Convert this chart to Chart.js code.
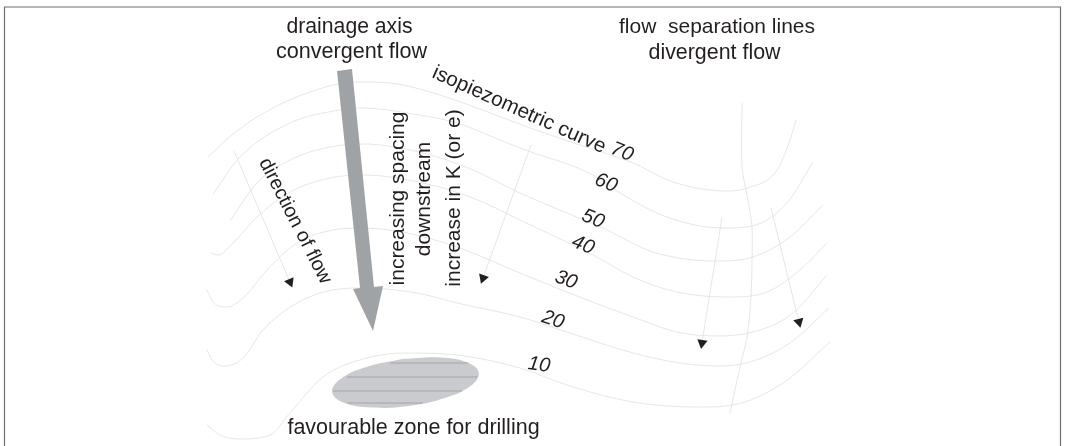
<!DOCTYPE html>
<html><head><meta charset="utf-8">
<style>html,body{margin:0;padding:0;background:#fff}canvas{display:block}</style>
<script src="https://cdn.jsdelivr.net/npm/chart.js@4"></script></head>
<body><canvas id="c" width="1065" height="446" style="width:1065px;height:446px"></canvas>
<script>
// Values are diagram coordinates
const curve70 = [[208,157],[232,135],[257,117],[307,93],[357,82],[390,83],[430,92],[480,109],[530,128],[580,145],[633,163],[673,182],[727,191],[747,188],[777,170],[790,140],[796,120]];
const curve60 = [[213,194],[240,157],[290,123],[340,110],[363,108],[407,113],[457,123],[500,140],[520,148],[593,175],[620,193],[667,217],[723,228],[752,226],[787,203],[813,162]];
const curve50 = [[230,221],[257,183],[290,160],[330,147],[363,144],[423,153],[473,170],[520,193],[607,230],[653,252],[717,261],[753,257],[790,237],[823,205]];
const curve40 = [[211,253],[218,255],[233,243],[257,217],[290,192],[330,178],[363,175],[423,183],[473,198],[520,220],[593,255],[633,277],[677,292],[730,297],[767,292],[800,270],[827,243]];
const curve30 = [[207,290],[213,302],[227,307],[243,298],[267,270],[297,243],[333,230],[363,228],[407,233],[457,247],[520,273],[577,296],[633,317],[677,332],[717,336],[760,330],[793,313],[827,275]];
const curve20 = [[207,350],[212,360],[225,366],[243,358],[263,330],[297,303],[333,290],[363,288],[417,293],[457,303],[520,317],[567,332],[633,353],[680,363],[717,366],[750,362],[790,343],[829,308]];
const curve10 = [[207,425],[220,435],[240,439],[270,435],[290,413],[323,377],[367,358],[407,353],[457,355],[520,368],[567,385],[633,402],[700,407],[733,405],[783,383],[830,342]];
const separationLine = [[742,103],[742,167],[748,200],[752,227],[752,260],[751,297],[747,337],[740,367],[730,413]];
const flowArrows = [[[234,151],[290,282]],[[531,145],[483,278]],[[722,217],[702,343]],[[771,208],[799,322]]];
const drainageArrow = [[337,71],[352,69],[374,287],[383,286],[373,331],[353,289],[360,288],[337,71]];
const drillingZone = [[402.4,359],[439.6,357.4],[467.6,362.4],[478.9,373],[470.6,386],[444.8,398],[408.6,406],[371.4,407.6],[343.4,402.6],[332.1,392],[340.4,379],[366.2,367],[402.4,359]];
const zoneHatch = [[[390,363],[468,363]],[[347,377],[477,377]],[[333,391],[462,391]],[[347,403],[423,403]]];
const frameLine = [[4.5,446],[4.5,7],[1060.5,7],[1060.5,446]];
const labelTexts = ["drainage axis","convergent flow","flow  separation lines","divergent flow","favourable zone for drilling","isopiezometric curve","direction of flow","increasing spacing","downstream","increase in K (or e)","70","60","50","40","30","20","10"];

// label placement: [x, y, angle, font px, italic]
const labelPlacement = [[349.5,27.5,0,21.2],[351.5,52.5,0,21.6],[717,27,0,21],[714.5,53,0,21.4],[413.5,428,0,21.5],
 [519,110,24,20.6],[295,221,63,19.9],[398,198.5,-90,21],[424,199,-90,21],[454,198,-90,21],
 [622,152,22,20,1],[606,183,22,20,1],[593,219,22,20,1],[583,245,22,20,1],[566,280,20,20,1],[553,320,18,20,1],[539,365,8,20,1]];

const pts = a => a.map(p => ({x:p[0],y:p[1]}));
const thin = (a,t) => ({data:pts(a),showLine:true,pointRadius:0,borderColor:'#dfe0e1',borderWidth:0.8,tension:t,fill:false});
const smooth = a => Object.assign(thin(a,0.4),{cubicInterpolationMode:'monotone'});
const datasets = [];
datasets.push({data:pts(frameLine),showLine:true,pointRadius:0,borderColor:'#6d6e71',borderWidth:1.2,tension:0,fill:false});
[curve70,curve60,curve50,curve40,curve30,curve20,curve10].forEach(c=>datasets.push(smooth(c)));
datasets.push(thin(separationLine,0.3));
flowArrows.forEach(a=>datasets.push(thin(a,0)));
datasets.push({data:pts(drillingZone),showLine:true,pointRadius:0,borderWidth:0,borderColor:'#c9cbce',backgroundColor:'#c9cbce',fill:'shape',tension:0.4});
zoneHatch.forEach(a=>datasets.push({data:pts(a),showLine:true,pointRadius:0,borderColor:'#a3a5a8',borderWidth:1,tension:0,fill:false}));
datasets.push({data:pts(drainageArrow),showLine:true,pointRadius:0,borderWidth:0,borderColor:'#a0a3a6',backgroundColor:'#a0a3a6',fill:'shape',tension:0});
flowArrows.forEach(a=>datasets.push({data:[{x:a[1][0],y:a[1][1]}],showLine:false,pointStyle:'triangle',pointRadius:6,
  pointRotation:Math.atan2(a[1][1]-a[0][1],a[1][0]-a[0][0])*180/Math.PI-90+180,
  pointBackgroundColor:'#231f20',pointBorderColor:'#231f20',pointBorderWidth:0}));
datasets.reverse(); // Chart.js paints the first dataset last

const textPlugin = {id:'textPlugin',afterDatasetsDraw(chart){
  const {ctx,scales:{x,y}} = chart;
  labelTexts.forEach((t,i)=>{
    const [lx,ly,ang,size,it] = labelPlacement[i];
    ctx.save();
    ctx.translate(x.getPixelForValue(lx),y.getPixelForValue(ly));
    ctx.rotate(ang*Math.PI/180);
    ctx.font=(it?'italic ':'')+size+'px "Liberation Sans"';
    ctx.fillStyle='#231f20';ctx.textAlign='center';ctx.textBaseline='middle';
    ctx.fillText(t,0,0);
    ctx.restore();
  });
}};
new Chart(document.getElementById('c'),{type:'scatter',data:{datasets},plugins:[textPlugin],options:{
  responsive:false,animation:false,devicePixelRatio:1,layout:{padding:0,autoPadding:false},
  plugins:{legend:{display:false},tooltip:{enabled:false}},
  scales:{x:{type:'linear',min:0,max:1065,display:false},y:{type:'linear',min:0,max:446,reverse:true,display:false}}
}});
</script></body></html>
